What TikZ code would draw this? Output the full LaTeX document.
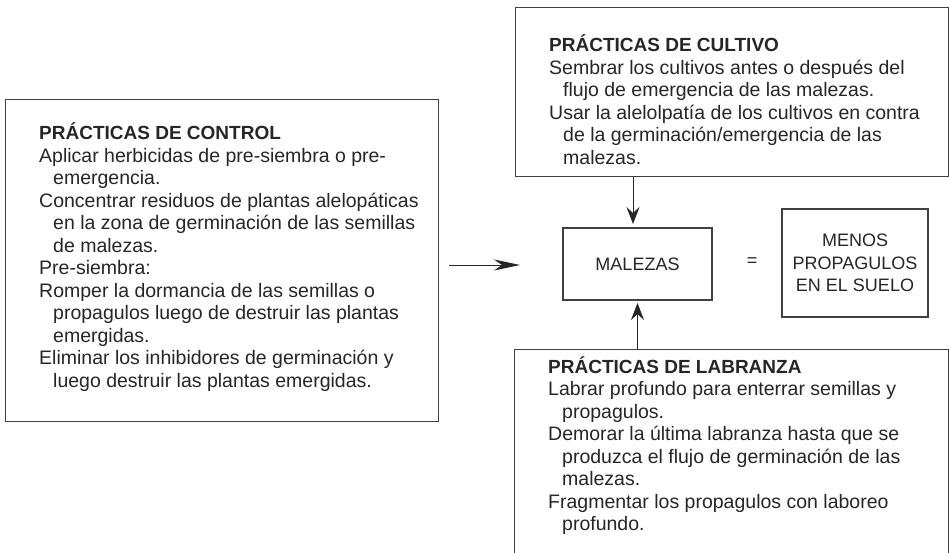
\documentclass[tikz,border=0pt]{standalone}
\usepackage{fontspec}
\setmainfont{Liberation Sans}
\usetikzlibrary{arrows.meta}
\newcommand\firstln[1]{\hbox{#1}}
\newcommand\contln[1]{\hbox{\hspace*{14pt}#1}}
\newcommand\headln[1]{\hbox{\fontsize{19pt}{22.5pt}\selectfont\bfseries #1}}
\newcommand\txtblock[1]{\vtop{\baselineskip=22.5pt\lineskiplimit=-20pt\hsize=430pt\parindent=0pt #1}}
\begin{document}
\begin{tikzpicture}[x=1pt,y=-1pt,
  boxframe/.style={draw=black!75, line width=1.2pt, rectangle, inner sep=0pt, anchor=north west},
  bodytxt/.style={anchor=base west, inner sep=0pt, text=black!85, font=\fontsize{19.5pt}{22.5pt}\selectfont},
  centertxt/.style={inner sep=0pt, text=black!85, font=\fontsize{18pt}{22.5pt}\selectfont, align=center},
  conn/.style={draw=black!85, line width=0.9pt},
  headS/.style={-{Stealth[length=17pt,width=13pt,inset=6pt]}},
  headL/.style={-{Stealth[length=26pt,width=11pt,inset=8pt]}}]
\useasboundingbox (0,0) rectangle (950,553);
\clip (0,0) rectangle (950,553);
\fill[white] (0,0) rectangle (950,553);

% left box
\node[boxframe, minimum width=433pt, minimum height=322pt] (control) at (4.5,99) {};
\node[bodytxt] (controltxt) at (39,140) {\txtblock{%
\headln{PRÁCTICAS DE CONTROL}
\firstln{Aplicar herbicidas de pre-siembra o pre-}
\contln{emergencia.}
\firstln{Concentrar residuos de plantas alelopáticas}
\contln{en la zona de germinación de las semillas}
\contln{de malezas.}
\firstln{Pre-siembra:}
\firstln{Romper la dormancia de las semillas o}
\contln{propagulos luego de destruir las plantas}
\contln{emergidas.}
\firstln{Eliminar los inhibidores de germinación y}
\contln{luego destruir las plantas emergidas.}}};

% top box
\node[boxframe, minimum width=433pt, minimum height=169pt] (cultivo) at (515,7) {};
\node[bodytxt] (cultivotxt) at (549,52) {\txtblock{%
\headln{PRÁCTICAS DE CULTIVO}
\firstln{Sembrar los cultivos antes o después del}
\contln{flujo de emergencia de las malezas.}
\firstln{Usar la alelolpatía de los cultivos en contra}
\contln{de la germinación/emergencia de las}
\contln{malezas.}}};

% bottom box (cut by the lower edge)
\node[boxframe, minimum width=434pt, minimum height=260pt] (labranza) at (514,349) {};
\node[bodytxt] (labranzatxt) at (548,373) {\txtblock{%
\headln{PRÁCTICAS DE LABRANZA}
\firstln{Labrar profundo para enterrar semillas y}
\contln{propagulos.}
\firstln{Demorar la última labranza hasta que se}
\contln{produzca el flujo de germinación de las}
\contln{malezas.}
\firstln{Fragmentar los propagulos con laboreo}
\contln{profundo.}}};

% centre
\node[boxframe, centertxt, anchor=center, minimum width=149pt, minimum height=72pt] (malezas) at (637.5,264) {MALEZAS};
\node[centertxt] (eq) at (752,262) {=};
\node[boxframe, centertxt, anchor=center, minimum width=146pt, minimum height=108pt] (menos) at (855,263) {MENOS\\PROPAGULOS\\EN EL SUELO};

% connectors
\coordinate (ta) at (633,224);
\draw[conn, headS] (cultivo.south -| ta) -- (ta);
\coordinate (ba) at (637.5,303);
\draw[conn, headS] (labranza.north -| ba) -- (ba);
\coordinate (la1) at (449,265);
\coordinate (la2) at (520,265);
\draw[conn, headL] (la1) -- (la2);
\end{tikzpicture}
\end{document}
